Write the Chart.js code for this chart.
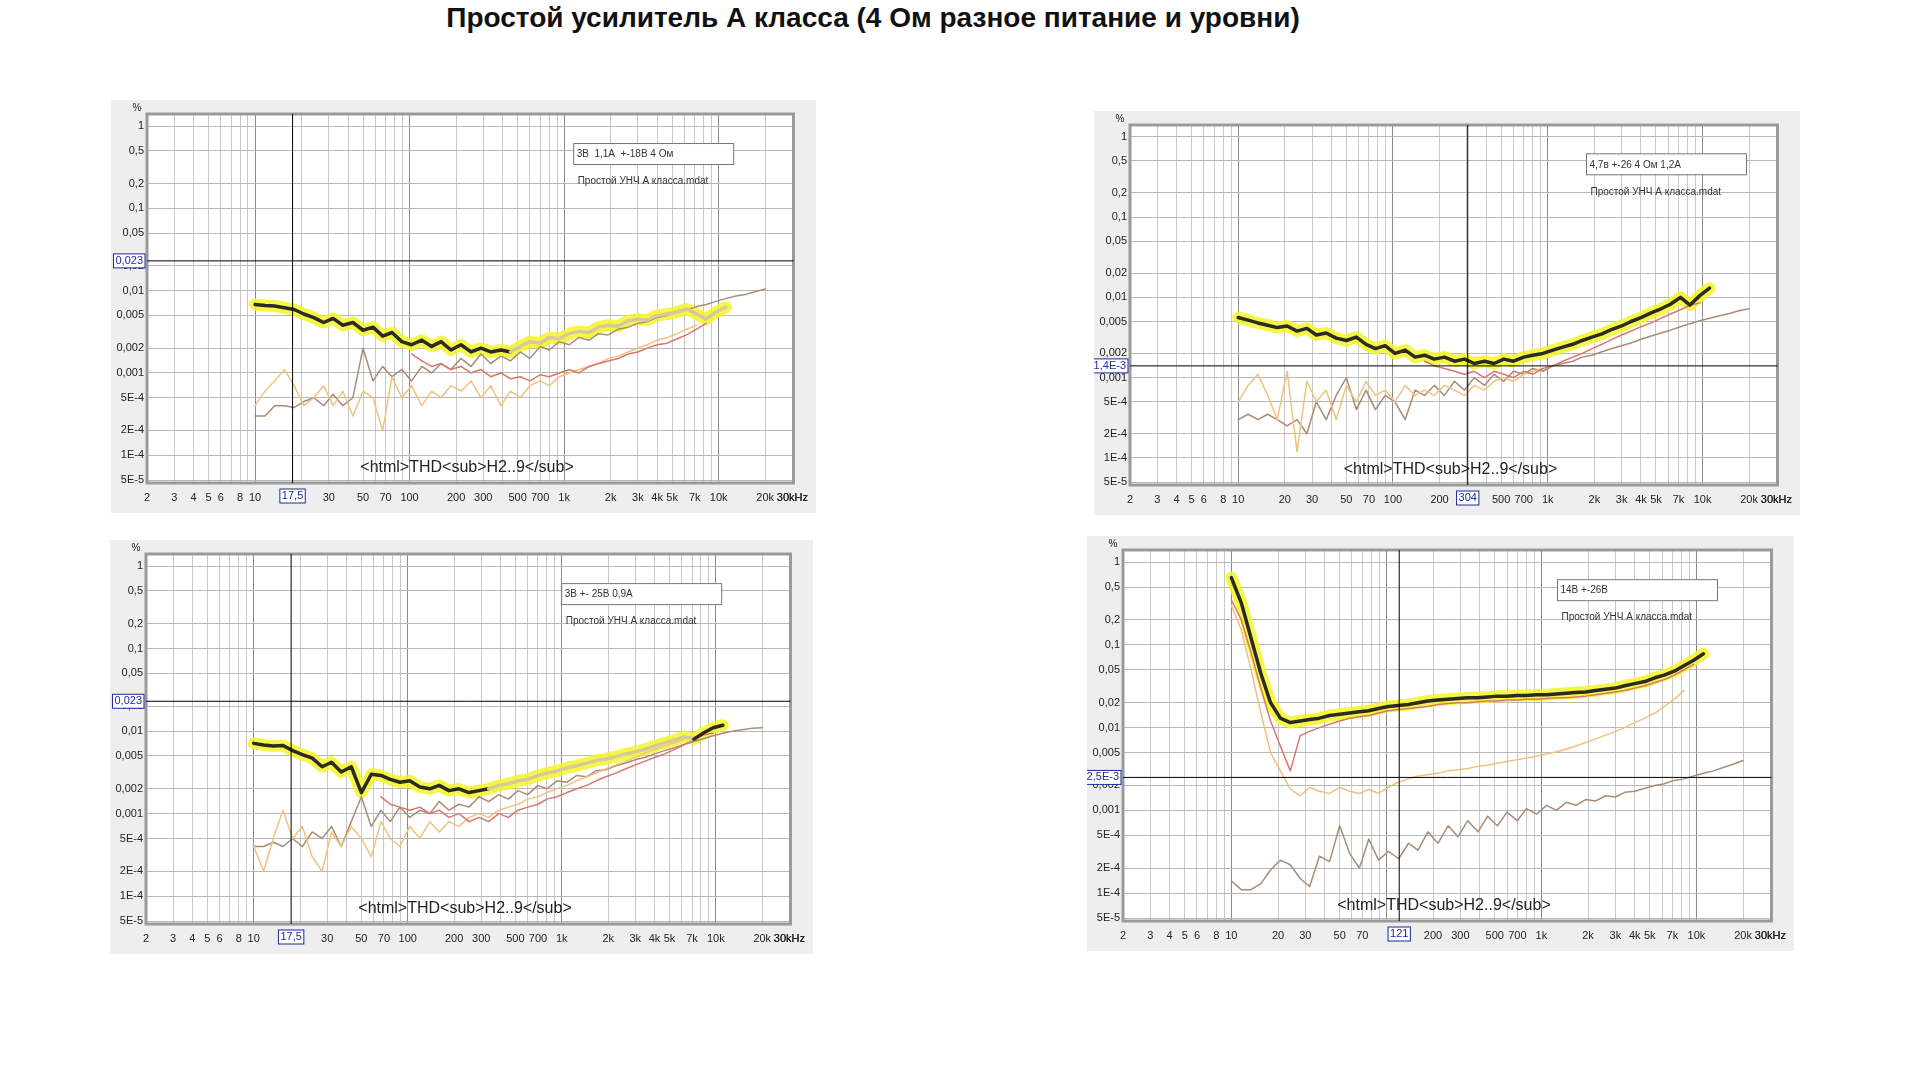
<!DOCTYPE html>
<html>
<head>
<meta charset="utf-8">
<script src="https://cdn.jsdelivr.net/npm/chart.js@4.4.1/dist/chart.umd.min.js"></script>
<style>
  body { margin: 0; background: #fff; width: 1930px; height: 1080px; position: relative; overflow: hidden; font-family: "Liberation Sans", Arial, sans-serif; }
  #title { position: absolute; left: 0; width: 1746px; top: 2px; text-align: center; font-weight: bold; font-size: 28px; color: #111; }
  .panel { position: absolute; background: #eeeeee; }
  .panel canvas { position: absolute; left: 0; top: 0; }
</style>
</head>
<body>
<div id="title">Простой усилитель А класса (4 Ом разное питание и уровни)</div>
<div class="panel" id="p1" style="left:111px;top:100px;width:705px;height:413px"><canvas id="c1"></canvas></div>
<div class="panel" id="p2" style="left:1094px;top:111px;width:706px;height:404px"><canvas id="c2"></canvas></div>
<div class="panel" id="p3" style="left:110px;top:540px;width:703px;height:414px"><canvas id="c3"></canvas></div>
<div class="panel" id="p4" style="left:1087px;top:536px;width:707px;height:415px"><canvas id="c4"></canvas></div>
<script>
// frequency points, Hz
const FREQ = [10,11.6,13.4,15.5,17.9,20.7,24,27.8,32,37,43,50,58,67,77,89,103,120,139,160,185,215,250,290,335,390,450,520,600,700,800,930,1080,1250,1450,1670,1930,2240,2600,3000,3450,4000,4650,5400,6200,7200,8300,9600,11100,12900,14900,17200,20000];

const Y_TICKS = [1,0.5,0.2,0.1,0.05,0.02,0.01,0.005,0.002,0.001,5e-4,2e-4,1e-4,5e-5];
const Y_LABELS = ['1','0,5','0,2','0,1','0,05','0,02','0,01','0,005','0,002','0,001','5E-4','2E-4','1E-4','5E-5'];
const X_LABELED = {2:'2',3:'3',4:'4',5:'5',6:'6',8:'8',10:'10',20:'20',30:'30',50:'50',70:'70',100:'100',200:'200',300:'300',500:'500',700:'700',1000:'1k',2000:'2k',3000:'3k',4000:'4k',5000:'5k',7000:'7k',10000:'10k',20000:'20k',30000:'30kHz'};

// panel 1: 3В 1,1А +-18В 4 Ом
const A_MAIN = [.0068,.0066,.0065,.0062,.0059,.0052,.0047,.0041,.0046,.0038,.0041,.0033,.0036,.0028,.0031,.0024,.0022,.0025,.0021,.0024,.0019,.0022,.0018,.0020,.0018,.0019,.0018,.0021,.0024,.0023,.0027,.0026,.0030,.0032,.0031,.0036,.0038,.0037,.0043,.0045,.0044,.0050,.0052,.0055,.0060,.0052,.0045,.0055,.0063,null,null,null,null];
const A_BROWN = [.0003,.0003,.0004,.0004,.00038,.00045,.0005,.0004,.00055,.0004,.0005,.0020,.0008,.0012,.0009,.0011,.0008,.0012,.0010,.0013,.0011,.0015,.0012,.0017,.0013,.0016,.0014,.0018,.0015,.0021,.0019,.0024,.0022,.0027,.0025,.0030,.0029,.0034,.0036,.0040,.0042,.0047,.0050,.0055,.0058,.0064,.0068,.0074,.0080,.0086,.0090,.0097,.0105];
const A_RED = [null,null,null,null,null,null,null,null,null,null,null,null,null,null,null,null,.0017,.0014,.0012,.0013,.0011,.0012,.0010,.0011,.0009,.0010,.00085,.0009,.0008,.00095,.0009,.0010,.0011,.0010,.0012,.0013,.0014,.0015,.0017,.0018,.0020,.0022,.0023,.0026,.0029,.0034,.0040,null,null,null,null,null,null];
const A_ORANGE = [.0004,.0006,.0008,.0011,.0007,.0004,.0005,.0007,.0004,.0006,.0003,.0006,.0005,.0002,.0009,.0005,.0007,.0004,.0006,.0005,.0007,.0006,.0008,.0005,.0007,.0004,.0006,.0005,.0007,.0008,.0007,.0009,.0010,.0011,.0012,.0013,.0015,.0016,.0018,.0020,.0022,.0025,.0027,.0030,.0034,.0038,null,null,null,null,null,null,null];

// panel 2: 4,7в +-26 4 Ом 1,2А
const B_MAIN = [.0056,.0052,.0048,.0045,.0042,.0044,.0038,.0041,.0034,.0036,.0031,.0029,.0032,.0026,.0023,.0025,.0020,.0022,.0018,.0019,.0017,.0018,.0016,.0017,.0015,.0016,.0015,.0017,.0016,.0018,.0019,.0020,.0022,.0024,.0026,.0029,.0032,.0035,.0040,.0044,.0050,.0056,.0064,.0072,.0082,.0100,.0080,.0105,.0130,null,null,null,null];
const B_BROWN = [.0003,.00035,.0003,.00035,.0003,.00025,.0003,.0002,.0005,.0003,.0006,.0010,.0004,.0007,.0004,.0006,.0005,.0003,.0007,.0006,.0008,.0006,.0009,.0007,.0010,.0008,.0011,.0009,.0012,.0011,.0013,.0012,.0014,.0015,.0016,.0018,.0019,.0021,.0023,.0025,.0027,.0030,.0033,.0036,.0039,.0043,.0047,.0051,.0055,.0059,.0063,.0068,.0072];
const B_RED = [null,null,null,null,null,null,null,null,null,null,null,null,null,null,null,null,null,null,null,.0016,.0014,.0013,.0012,.0011,.0012,.0010,.0012,.0011,.0010,.0012,.0011,.0013,.0014,.0016,.0018,.0020,.0023,.0026,.0030,.0034,.0038,.0043,.0048,.0055,.0062,.0070,.0080,.0085,null,null,null,null,null];
const B_ORANGE = [.0005,.0008,.0011,.0006,.0003,.0012,.00012,.0009,.0005,.0007,.0003,.0008,.0005,.0009,.0006,.0007,.0005,.0008,.0006,.0007,.0006,.0008,.0007,.0006,.0008,.0007,.0009,.0010,.0009,.0011,.0012,.0013,null,null,null,null,null,null,null,null,null,null,null,null,null,null,null,null,null,null,null,null,null];

// panel 3: 3В +- 25В 0,9А
const C_MAIN = [.0071,.0068,.0066,.0067,.0058,.0052,.0047,.0037,.0042,.0032,.0037,.0018,.0030,.0029,.0026,.0024,.0025,.0021,.0020,.0022,.0019,.0020,.0018,.0019,.0020,.0022,.0023,.0025,.0026,.0029,.0031,.0033,.0036,.0038,.0041,.0044,.0046,.0049,.0053,.0056,.0060,.0066,.0072,.0078,.0086,.0080,.0095,.0110,.0118,null,null,null,null];
const C_BROWN = [.0004,.0004,.00045,.0004,.0005,.0004,.0006,.0005,.0007,.0004,.0008,.0016,.0007,.0011,.0008,.0012,.0009,.0011,.0010,.0014,.0011,.0013,.0012,.0016,.0014,.0017,.0015,.0019,.0017,.0022,.0020,.0025,.0024,.0029,.0028,.0033,.0034,.0038,.0041,.0045,.0048,.0053,.0058,.0063,.0069,.0075,.0081,.0088,.0094,.0100,.0104,.0108,.0110];
const C_RED = [null,null,null,null,null,null,null,null,null,null,null,null,null,.0016,.0013,.0012,.0011,.0012,.0010,.0011,.0009,.0010,.0008,.0009,.0008,.0010,.0009,.0011,.0012,.0013,.0015,.0016,.0018,.0020,.0022,.0025,.0028,.0031,.0035,.0039,.0043,.0048,.0053,.0060,.0068,.0078,.0090,.0095,null,null,null,null,null];
const C_ORANGE = [.0004,.0002,.0005,.0011,.0005,.0007,.0003,.0002,.0006,.0004,.0007,.0005,.0003,.0008,.0005,.0004,.0007,.0005,.0008,.0006,.0008,.0007,.0009,.0010,.0009,.0011,.0012,.0013,.0015,.0016,.0018,.0020,.0022,.0025,.0028,.0031,.0035,.0039,.0043,.0048,.0054,.0060,.0066,.0072,.0080,.0088,null,null,null,null,null,null,null];

// panel 4: 14В +-26В
const D_MAIN = [.65,.32,.12,.045,.02,.013,.0115,.012,.0125,.013,.014,.0145,.015,.0155,.016,.017,.018,.0185,.019,.020,.021,.0215,.022,.0225,.023,.023,.0235,.024,.024,.0245,.0245,.025,.025,.0255,.026,.0265,.027,.028,.029,.030,.032,.034,.036,.040,.043,.048,.056,.065,.078,null,null,null,null];
const D_RED = [.35,.2,.08,.03,.012,.006,.003,.008,.009,.010,.011,.012,.013,.0135,.014,.015,.016,.0165,.017,.0175,.018,.019,.0195,.020,.020,.0205,.021,.021,.0215,.0215,.022,.022,.0225,.023,.023,.0235,.024,.025,.026,.027,.028,.030,.032,.035,.038,.043,.050,.058,null,null,null,null,null];
const D_ORANGE = [.3,.15,.05,.015,.005,.003,.0018,.0015,.0019,.0017,.0016,.0019,.0017,.0016,.0018,.0016,.0019,.0022,.0024,.0026,.0027,.0028,.0030,.0031,.0032,.0034,.0035,.0037,.0039,.0041,.0043,.0045,.0048,.0051,.0055,.0060,.0066,.0073,.0081,.0090,.010,.0115,.013,.015,.018,.022,.028,null,null,null,null,null,null];
const D_BROWN = [1.4e-4,1.1e-4,1.1e-4,1.3e-4,1.9e-4,2.5e-4,2.2e-4,1.5e-4,1.2e-4,2.8e-4,2.4e-4,6.5e-4,3e-4,2e-4,4.5e-4,2.5e-4,3.2e-4,2.6e-4,4e-4,3.3e-4,5.5e-4,4e-4,6.5e-4,4.8e-4,7.5e-4,5.5e-4,8.5e-4,6.5e-4,9.5e-4,7.5e-4,1.05e-3,9e-4,1.15e-3,1e-3,1.25e-3,1.15e-3,1.35e-3,1.3e-3,1.5e-3,1.45e-3,1.65e-3,1.7e-3,1.85e-3,2e-3,2.1e-3,2.3e-3,2.4e-3,2.6e-3,2.8e-3,3e-3,3.3e-3,3.6e-3,4e-3];

const PANELS = [
  { id: 'c1', main: A_MAIN, brown: A_BROWN, red: A_RED, orange: A_ORANGE, dark: i => i < 26,
    curX: 17.5, curXLabel: '17,5', curY: 0.023, curYLabel: '0,023', hide: [20],
    legend: '3В  1,1А  +-18В 4 Ом', lx: 0.66 },
  { id: 'c2', main: B_MAIN, brown: B_BROWN, red: B_RED, orange: B_ORANGE, dark: () => true,
    curX: 304, curXLabel: '304', curY: 0.0014, curYLabel: '1,4E-3', hide: [300],
    legend: '4,7в +-26 4 Ом 1,2А', lx: 0.705 },
  { id: 'c3', main: C_MAIN, brown: C_BROWN, red: C_RED, orange: C_ORANGE, dark: i => i < 24 || i >= 45,
    curX: 17.5, curXLabel: '17,5', curY: 0.023, curYLabel: '0,023', hide: [20],
    legend: '3В +- 25В 0,9А', lx: 0.645 },
  { id: 'c4', main: D_MAIN, brown: D_BROWN, red: D_RED, orange: D_ORANGE, dark: () => true,
    curX: 121, curXLabel: '121', curY: 0.0025, curYLabel: '2,5E-3', hide: [100],
    legend: '14В +-26В', lx: 0.67 },
];

const X_TICKS = [];
[1, 10, 100, 1000, 10000].forEach(d => { for (let m = 1; m <= 9; m++) { const v = m * d; if (v >= 2 && v <= 30000) X_TICKS.push(v); } });
X_TICKS.push(30000);

const pts = arr => FREQ.map((f, i) => ({ x: f, y: arr[i] }));

const decoPlugin = {
  id: 'deco',
  beforeDraw(chart) {
    const { ctx, chartArea: a } = chart;
    ctx.save();
    ctx.fillStyle = '#fff';
    ctx.fillRect(a.left, a.top, a.right - a.left, a.bottom - a.top);
    ctx.restore();
  },
  afterDatasetsDraw(chart) {
    const p = chart.options.plugins.deco;
    const { ctx, chartArea: a, scales: { x, y } } = chart;
    ctx.save();
    ctx.strokeStyle = '#9a9a9a'; ctx.lineWidth = 3;
    ctx.strokeRect(a.left, a.top, a.right - a.left, a.bottom - a.top);
    // cursor lines
    const cx = x.getPixelForValue(p.curX), cy = y.getPixelForValue(p.curY);
    ctx.strokeStyle = '#000'; ctx.lineWidth = 1;
    ctx.beginPath(); ctx.moveTo(cx, a.top); ctx.lineTo(cx, a.bottom); ctx.stroke();
    ctx.beginPath(); ctx.moveTo(a.left, cy); ctx.lineTo(a.right, cy); ctx.stroke();
    ctx.font = '11px "Liberation Sans", Arial';
    ctx.textAlign = 'center'; ctx.textBaseline = 'middle';
    const box = (label, bx, by) => {
      const w = ctx.measureText(label).width + 4;
      ctx.fillStyle = '#fff'; ctx.fillRect(bx - w / 2, by - 7, w, 14);
      ctx.strokeStyle = '#1c2a9c'; ctx.strokeRect(bx - w / 2, by - 7, w, 14);
      ctx.fillStyle = '#1c2a9c'; ctx.fillText(label, bx, by);
    };
    box(p.curXLabel, cx, a.bottom + 13);
    const wl = ctx.measureText(p.curYLabel).width + 4;
    box(p.curYLabel, a.left - wl / 2 - 2, cy);
    // legend
    const lx = a.left + p.lx * (a.right - a.left), ly = a.top + 0.08 * (a.bottom - a.top);
    ctx.fillStyle = '#fff'; ctx.fillRect(lx, ly, 160, 21);
    ctx.strokeStyle = '#777'; ctx.strokeRect(lx, ly, 160, 21);
    ctx.fillStyle = '#333'; ctx.textAlign = 'left';
    ctx.font = '10px "Liberation Sans", Arial';
    ctx.fillText(p.legend, lx + 3, ly + 11);
    ctx.fillText('Простой УНЧ А класса.mdat', lx + 4, ly + 38);
    // bottom label
    ctx.font = '16px "Liberation Sans", Arial';
    ctx.fillStyle = '#222'; ctx.textAlign = 'center';
    ctx.fillText('<html>THD<sub>H2..9</sub>', a.left + 0.495 * (a.right - a.left), a.bottom - 15);
    ctx.font = '10px "Liberation Sans", Arial';
    ctx.fillText('%', a.left - 10, a.top - 6);
    ctx.restore();
  }
};

PANELS.forEach(p => {
  const el = document.getElementById(p.id);
  const box = el.parentElement;
  el.width = box.clientWidth; el.height = box.clientHeight;
  new Chart(el, {
    type: 'line',
    data: {
      datasets: [
        { data: pts(p.main), borderColor: '#2b2b22', borderWidth: 3.5,
          segment: { borderColor: c => p.dark(c.p0DataIndex) ? '#2b2b22' : '#d8c99a' }, order: 1 },
        { data: pts(p.red), borderColor: '#d9776b', borderWidth: 1.5, order: 2 },
        { data: pts(p.orange), borderColor: '#efc27f', borderWidth: 1.5, order: 3 },
        { data: pts(p.brown), borderColor: '#a98c77', borderWidth: 1.5, order: 4 },
        { data: pts(p.main), borderColor: 'rgba(245,245,40,0.85)', borderWidth: 12, order: 5 },
      ],
    },
    options: {
      responsive: false,
      animation: false,
      layout: { padding: { top: 14, right: 19, left: 0, bottom: 0 } },
      elements: { point: { radius: 0 }, line: { tension: 0, borderJoinStyle: 'round', borderCapStyle: 'round' } },
      plugins: { legend: { display: false }, tooltip: { enabled: false }, deco: p },
      scales: {
        x: {
          type: 'logarithmic', min: 2, max: 30500,
          afterBuildTicks: s => { s.ticks = X_TICKS.map(v => ({ value: v })); },
          afterFit: s => { s.height = 30; },
          grid: { color: c => [10, 100, 1000, 10000].includes(c.tick.value) ? '#8a8a8a' : '#c8c8c8', drawTicks: false },
          border: { display: false },
          ticks: {
            autoSkip: false, maxRotation: 0, padding: 8, color: '#222',
            font: { size: 11, family: '"Liberation Sans", Arial' },
            callback: v => (p.hide.includes(v) ? '' : (X_LABELED[v] || '')),
          },
        },
        y: {
          type: 'logarithmic', min: 4.6e-5, max: 1.4,
          afterBuildTicks: s => { s.ticks = Y_TICKS.map(v => ({ value: v })); },
          afterFit: s => { s.width = 36; },
          grid: { color: '#b8b8b8', drawTicks: false },
          border: { display: false },
          ticks: {
            autoSkip: false, padding: 3, color: '#222',
            font: { size: 11, family: '"Liberation Sans", Arial' },
            callback: v => Y_LABELS[Y_TICKS.indexOf(v)] ?? '',
          },
        },
      },
    },
    plugins: [decoPlugin],
  });
});
</script>
</body>
</html>
